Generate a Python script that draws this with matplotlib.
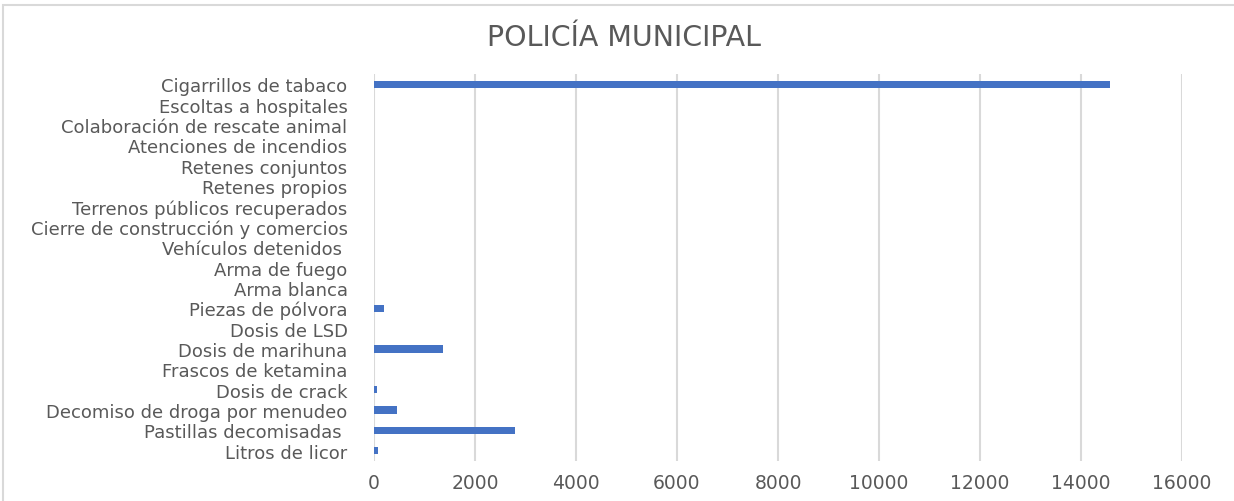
import matplotlib
matplotlib.use("Agg")
import matplotlib.pyplot as plt
from matplotlib.patches import Rectangle

categories = [
    "Litros de licor",
    "Pastillas decomisadas ",
    "Decomiso de droga por menudeo",
    "Dosis de crack",
    "Frascos de ketamina",
    "Dosis de marihuna",
    "Dosis de LSD",
    "Piezas de pólvora",
    "Arma blanca",
    "Arma de fuego",
    "Vehículos detenidos ",
    "Cierre de construcción y comercios",
    "Terrenos públicos recuperados",
    "Retenes propios",
    "Retenes conjuntos",
    "Atenciones de incendios",
    "Colaboración de rescate animal",
    "Escoltas a hospitales",
    "Cigarrillos de tabaco",
]
values = [85, 2800, 450, 60, 0, 1360, 0, 205, 0, 0, 0, 0, 0, 0, 0, 0, 0, 0, 14570]
xticks = [0, 2000, 4000, 6000, 8000, 10000, 12000, 14000, 16000]

W, H = 1234, 502
fig = plt.figure(figsize=(W / 100, H / 100), dpi=100)
fig.patch.set_facecolor("white")
fig.patches.append(Rectangle((3 / W, -0.1), 1.2, 1 - 6 / H + 0.1,
                             transform=fig.transFigure, fill=False,
                             edgecolor="#d9d9d9", linewidth=1.5))

ax = fig.add_axes([374 / W, 1 - 462 / H, (1182 - 374) / W, (462 - 75) / H])
ax.barh(range(len(categories)), values, height=0.36, color="#4472c4", zorder=3)
ax.set_xlim(0, 16000)
ax.set_ylim(-0.5, len(categories) - 0.5)
ax.set_xticks(xticks)
ax.set_xticklabels([str(t) for t in xticks])
ax.set_yticks(range(len(categories)))
ax.set_yticklabels(categories)
for s in ax.spines.values():
    s.set_visible(False)
ax.grid(axis="x", color="#d9d9d9", linewidth=1.5, zorder=0)
ax.tick_params(axis="both", length=0, colors="#595959")
ax.tick_params(axis="y", pad=19, labelsize=13)
ax.tick_params(axis="x", pad=9, labelsize=13.5)

fig.text(0.506, 1 - 38 / H, "POLICÍA MUNICIPAL", ha="center", va="center",
         fontsize=20.5, color="#595959")

fig.savefig("out.png", dpi=100)
